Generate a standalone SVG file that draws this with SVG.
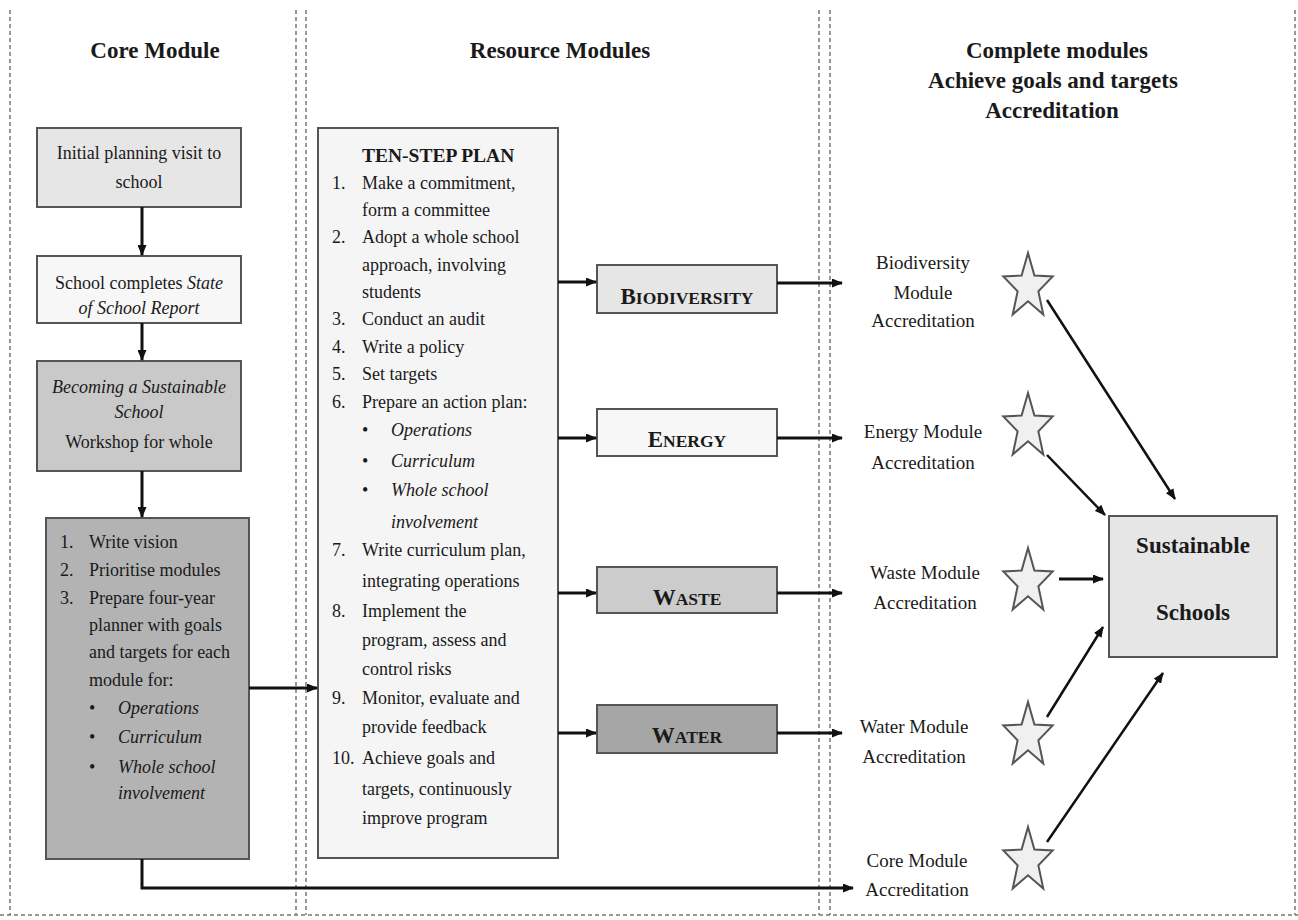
<svg xmlns="http://www.w3.org/2000/svg" width="1298" height="920" viewBox="0 0 1298 920">
<style>
text{font-family:"Liberation Serif","Times New Roman",serif;fill:#1a1a1a}
.h{font-size:23px;font-weight:bold;text-anchor:middle}
.t{font-size:18px}
.c{text-anchor:middle}
.i{font-style:italic}
.b{font-weight:bold}
.box{stroke:#555;stroke-width:2}
.dash{stroke:#777;stroke-width:1.5;stroke-dasharray:4 3;fill:none}
.con{stroke:#111;stroke-width:3;fill:none}
.dia{stroke:#111;stroke-width:2.5;fill:none}
.star{fill:#f0f0f0;stroke:#555;stroke-width:2}
.mod{font-size:23px;font-weight:bold;text-anchor:middle}
.sm{font-size:17.5px}
.lab{font-size:19px;text-anchor:middle}
</style>
<defs>
<marker id="ah" markerUnits="userSpaceOnUse" markerWidth="11" markerHeight="9" refX="10" refY="4.5" orient="auto">
<path d="M0,0 L11,4.5 L0,9 z" fill="#111"/>
</marker>
<path id="starShape" d="M0,-34 L6.41,-11.57 L24.73,-10.51 L10.37,4.42 L15.29,27.51 L0,14.3 L-15.29,27.51 L-10.37,4.42 L-24.73,-10.51 L-6.41,-11.57 Z"/>
</defs>
<rect width="1298" height="920" fill="#fff"/>
<g id="frame">
<line class="dash" x1="10" y1="10" x2="10" y2="915"/>
<line class="dash" x1="296" y1="10" x2="296" y2="915"/>
<line class="dash" x1="306" y1="10" x2="306" y2="915"/>
<line class="dash" x1="819" y1="10" x2="819" y2="915"/>
<line class="dash" x1="830" y1="10" x2="830" y2="915"/>
<line class="dash" x1="1295" y1="10" x2="1295" y2="915"/>
<line class="dash" x1="0" y1="915" x2="1298" y2="915"/>
</g>
<g id="headers">
<text class="h" x="155" y="58">Core Module</text>
<text class="h" x="560" y="58">Resource Modules</text>
<text class="h" x="1057" y="58">Complete modules</text>
<text class="h" x="1053" y="88">Achieve goals and targets</text>
<text class="h" x="1052" y="118">Accreditation</text>
</g>
<g id="n-initial">
<rect class="box" x="37" y="128" width="204" height="79" fill="#e6e6e6"/>
<text class="t c" x="139" y="159">Initial planning visit to</text>
<text class="t c" x="139" y="188">school</text>
</g>
<g id="n-report">
<rect class="box" x="37" y="256" width="204" height="67" fill="#f7f7f7"/>
<text class="t c" x="139" y="289">School completes <tspan class="i">State</tspan></text>
<text class="t c i" x="139" y="314">of School Report</text>
</g>
<g id="n-workshop">
<rect class="box" x="37" y="361" width="204" height="110" fill="#c9c9c9"/>
<text class="t c i" x="139" y="393">Becoming a Sustainable</text>
<text class="t c i" x="139" y="418">School</text>
<text class="t c" x="139" y="448">Workshop for whole</text>
</g>
<g id="n-vision">
<rect class="box" x="46" y="518" width="203" height="341" fill="#b3b3b3"/>
<text class="t" x="60" y="548">1.</text><text class="t" x="89" y="548">Write vision</text>
<text class="t" x="60" y="576">2.</text><text class="t" x="89" y="576">Prioritise modules</text>
<text class="t" x="60" y="604">3.</text><text class="t" x="89" y="604">Prepare four-year</text>
<text class="t" x="89" y="631">planner with goals</text>
<text class="t" x="89" y="658">and targets for each</text>
<text class="t" x="89" y="686">module for:</text>
<text class="t" x="89" y="714">•</text><text class="t i" x="118" y="714">Operations</text>
<text class="t" x="89" y="743">•</text><text class="t i" x="118" y="743">Curriculum</text>
<text class="t" x="89" y="773">•</text><text class="t i" x="118" y="773">Whole school</text>
<text class="t i" x="118" y="799">involvement</text>
</g>
<g id="n-tenstep">
<rect class="box" x="318" y="128" width="240" height="730" fill="#f5f5f5"/>
<text class="b" x="362" y="162" font-size="19.5">TEN-STEP PLAN</text>
<text class="t" x="332" y="189">1.</text><text class="t" x="362" y="189">Make a commitment,</text>
<text class="t" x="362" y="216">form a committee</text>
<text class="t" x="332" y="243">2.</text><text class="t" x="362" y="243">Adopt a whole school</text>
<text class="t" x="362" y="271">approach, involving</text>
<text class="t" x="362" y="298">students</text>
<text class="t" x="332" y="325">3.</text><text class="t" x="362" y="325">Conduct an audit</text>
<text class="t" x="332" y="353">4.</text><text class="t" x="362" y="353">Write a policy</text>
<text class="t" x="332" y="380">5.</text><text class="t" x="362" y="380">Set targets</text>
<text class="t" x="332" y="408">6.</text><text class="t" x="362" y="408">Prepare an action plan:</text>
<text class="t" x="362" y="436">•</text><text class="t i" x="391" y="436">Operations</text>
<text class="t" x="362" y="467">•</text><text class="t i" x="391" y="467">Curriculum</text>
<text class="t" x="362" y="496">•</text><text class="t i" x="391" y="496">Whole school</text>
<text class="t i" x="391" y="528">involvement</text>
<text class="t" x="332" y="556">7.</text><text class="t" x="362" y="556">Write curriculum plan,</text>
<text class="t" x="362" y="587">integrating operations</text>
<text class="t" x="332" y="617">8.</text><text class="t" x="362" y="617">Implement the</text>
<text class="t" x="362" y="646">program, assess and</text>
<text class="t" x="362" y="675">control risks</text>
<text class="t" x="332" y="704">9.</text><text class="t" x="362" y="704">Monitor, evaluate and</text>
<text class="t" x="362" y="733">provide feedback</text>
<text class="t" x="332" y="764">10.</text><text class="t" x="362" y="764">Achieve goals and</text>
<text class="t" x="362" y="795">targets, continuously</text>
<text class="t" x="362" y="824">improve program</text>
</g>
<g id="n-biodiversity">
<rect class="box" x="597" y="265" width="180" height="48" fill="#e6e6e6"/>
<text class="mod" x="687" y="304">B<tspan class="sm">IODIVERSITY</tspan></text>
</g>
<g id="n-energy">
<rect class="box" x="597" y="409" width="180" height="47" fill="#f7f7f7"/>
<text class="mod" x="687" y="447">E<tspan class="sm">NERGY</tspan></text>
</g>
<g id="n-waste">
<rect class="box" x="597" y="567" width="180" height="46" fill="#cccccc"/>
<text class="mod" x="687" y="605">W<tspan class="sm">ASTE</tspan></text>
</g>
<g id="n-water">
<rect class="box" x="597" y="705" width="180" height="48" fill="#a6a6a6"/>
<text class="mod" x="687" y="743">W<tspan class="sm">ATER</tspan></text>
</g>
<g id="n-acc-bio">
<text class="lab" x="923" y="269">Biodiversity</text>
<text class="lab" x="923" y="299">Module</text>
<text class="lab" x="923" y="327">Accreditation</text>
<use href="#starShape" class="star" transform="translate(1028,287)"/>
</g>
<g id="n-acc-energy">
<text class="lab" x="923" y="438">Energy Module</text>
<text class="lab" x="923" y="469">Accreditation</text>
<use href="#starShape" class="star" transform="translate(1028,427)"/>
</g>
<g id="n-acc-waste">
<text class="lab" x="925" y="579">Waste Module</text>
<text class="lab" x="925" y="609">Accreditation</text>
<use href="#starShape" class="star" transform="translate(1028,582)"/>
</g>
<g id="n-acc-water">
<text class="lab" x="914" y="733">Water Module</text>
<text class="lab" x="914" y="763">Accreditation</text>
<use href="#starShape" class="star" transform="translate(1028,736)"/>
</g>
<g id="n-acc-core">
<text class="lab" x="917" y="867">Core Module</text>
<text class="lab" x="917" y="896">Accreditation</text>
<use href="#starShape" class="star" transform="translate(1028,861)"/>
</g>
<g id="n-sustainable">
<rect class="box" x="1109" y="516" width="168" height="141" fill="#e6e6e6"/>
<text class="h" x="1193" y="553">Sustainable</text>
<text class="h" x="1193" y="620">Schools</text>
</g>
<g id="connectors">
<path class="con" d="M142,207 L142,255" marker-end="url(#ah)"/>
<path class="con" d="M142,323 L142,360" marker-end="url(#ah)"/>
<path class="con" d="M142,471 L142,517" marker-end="url(#ah)"/>
<path class="con" d="M249,688 L317,688" marker-end="url(#ah)"/>
<path class="con" d="M142,859 L142,888 L853,888" marker-end="url(#ah)"/>
<path class="con" d="M558,282 L596,282" marker-end="url(#ah)"/>
<path class="con" d="M558,438 L596,438" marker-end="url(#ah)"/>
<path class="con" d="M558,593 L596,593" marker-end="url(#ah)"/>
<path class="con" d="M558,733 L596,733" marker-end="url(#ah)"/>
<path class="con" d="M777,283 L842,283" marker-end="url(#ah)"/>
<path class="con" d="M777,438 L842,438" marker-end="url(#ah)"/>
<path class="con" d="M777,593 L842,593" marker-end="url(#ah)"/>
<path class="con" d="M777,733 L842,733" marker-end="url(#ah)"/>
<path class="dia" d="M1047,300 L1175,499" marker-end="url(#ah)"/>
<path class="dia" d="M1047,455 L1105,515" marker-end="url(#ah)"/>
<path class="con" d="M1059,579 L1103,579" marker-end="url(#ah)"/>
<path class="dia" d="M1047,717 L1103,627" marker-end="url(#ah)"/>
<path class="dia" d="M1047,842 L1163,673" marker-end="url(#ah)"/>
</g>
</svg>
